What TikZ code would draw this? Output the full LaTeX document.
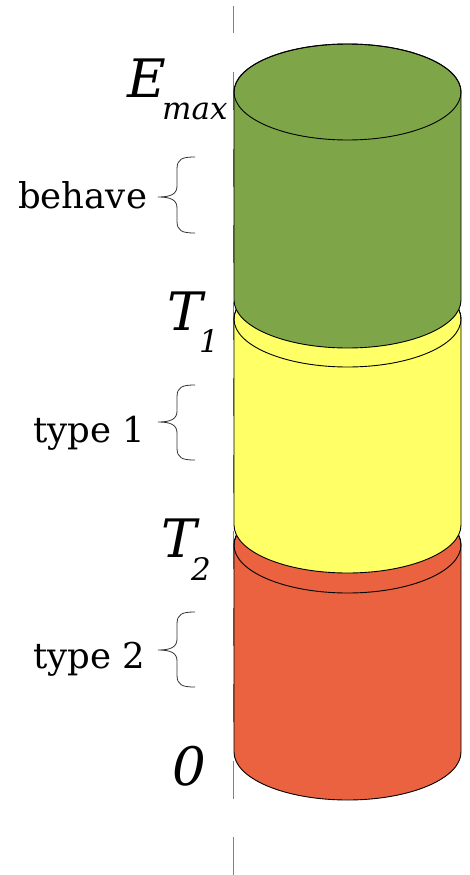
\documentclass[tikz,border=0pt]{standalone}
\usepackage{fontspec}
\setmainfont{DejaVu Serif}
\definecolor{cgreen}{RGB}{126,166,72}
\definecolor{cyellow}{RGB}{255,255,102}
\definecolor{cred}{RGB}{234,98,63}
\definecolor{axisgray}{RGB}{128,128,128}
\tikzset{
  edge/.style={draw=black, line width=0.9pt},
  axisline/.style={draw=axisgray, line width=1.5pt, dash pattern=on 38pt off 38.5pt},
  bigsym/.style={inner sep=0pt, anchor=base west, font=\fontsize{53}{60}\selectfont\itshape},
  subsym/.style={inner sep=0pt, anchor=base west, font=\fontsize{31}{36}\selectfont\itshape},
  lbl/.style={inner sep=0pt, anchor=base west, font=\fontsize{35.5}{40}\selectfont},
  braceline/.style={draw=black!80, line width=0.8pt}
}
\newcommand{\mycyl}[3]{%
  \path[fill=#1, edge] (234,#2) -- (234,#3)
    arc[start angle=180, end angle=0, x radius=113.5, y radius=48]
    -- (461,#2)
    arc[start angle=0, end angle=-180, x radius=113.5, y radius=48] -- cycle;
  \draw[edge] (347.5,#2) ellipse[x radius=113.5, y radius=48];
}
\newcommand{\mybrace}[4]{%
  \coordinate (#1top) at (195,#2);
  \coordinate (#1tip) at (158,#3);
  \coordinate (#1bot) at (195,#4);
  \draw[braceline] (#1top) .. controls (182,#2) and (177,#2+2) .. (177,#2+12)
    -- (177,#3-11) .. controls (177,#3-3) and (171,#3) .. (#1tip)
    .. controls (171,#3) and (177,#3+3) .. (177,#3+11)
    -- (177,#4-12) .. controls (177,#4-2) and (182,#4) .. (#1bot);
}
\begin{document}
\begin{tikzpicture}[x=1pt,y=-1pt]
\useasboundingbox (0,0) rectangle (469,875);
\coordinate (axb) at (233.5,875);
\coordinate (axt) at (233.5,6);
\draw[axisline] (axb) -- (axt);
\mycyl{cred}{545}{752}
\mycyl{cyellow}{319}{525}
\mycyl{cgreen}{92}{300}
% labels
\node[bigsym] (E) at (127,97) {E};
\node[subsym] (Emax) at (162,119) {max};
\node[bigsym] (T1) at (167,330) {T};
\node[subsym] (T1s) at (199,352) {1};
\node[bigsym] (T2) at (161,557) {T};
\node[subsym] (T2s) at (191,580) {2};
\node[bigsym] (Z) at (172,785) {0};
\node[lbl] (beh) at (18,208) {behave};
\node[lbl] (ty1) at (33,442) {type 1};
\node[lbl] (ty2) at (33,668) {type 2};
% braces
\mybrace{b1}{157}{197}{233}
\mybrace{b2}{385}{422}{460}
\mybrace{b3}{612}{650}{687}
\end{tikzpicture}
\end{document}
